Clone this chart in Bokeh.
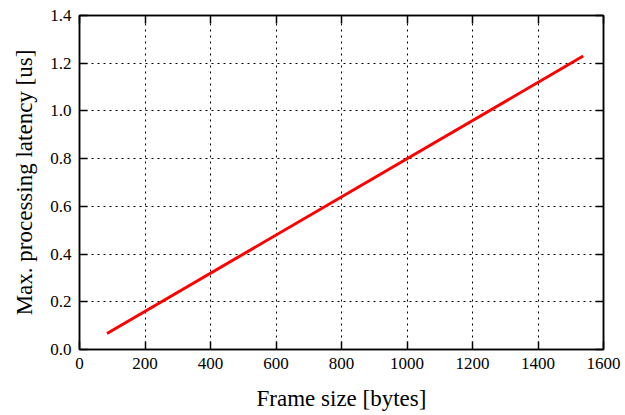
from bokeh.plotting import figure
from bokeh.models import (LinearAxis, Range1d, FixedTicker,
                          NumeralTickFormatter, CustomJSTickFormatter)
from bokeh.embed import file_html
from bokeh.resources import INLINE

frame_size = [84, 1538]
latency = [0.067, 1.230]
x_ticks = [0, 200, 400, 600, 800, 1000, 1200, 1400, 1600]
y_ticks = [0.0, 0.2, 0.4, 0.6, 0.8, 1.0, 1.2, 1.4]

FONT = "Liberation Serif"

p = figure(width=625, height=415, output_backend="svg", toolbar_location=None,
           x_range=Range1d(0, 1600), y_range=Range1d(0, 1.4),
           min_border_left=79, min_border_right=22, min_border_top=15, min_border_bottom=66)

p.line(frame_size, latency, line_color="red", line_width=3)

bottom = p.below[0]
left = p.left[0]
bottom.ticker = FixedTicker(ticks=x_ticks)
left.ticker = FixedTicker(ticks=y_ticks)
left.formatter = NumeralTickFormatter(format="0.0")

blank = CustomJSTickFormatter(code="return ''")
top = LinearAxis(ticker=FixedTicker(ticks=x_ticks), formatter=blank)
right = LinearAxis(ticker=FixedTicker(ticks=y_ticks), formatter=blank)
p.add_layout(top, "above")
p.add_layout(right, "right")

for ax in [bottom, left]:
    ax.major_label_text_font = "Times New Roman"
    ax.major_label_text_font_size = "17px"
    ax.major_label_text_color = "black"
    ax.axis_label_text_font = FONT
    ax.axis_label_text_font_size = "23px"
    ax.axis_label_text_font_style = "normal"
    ax.axis_label_text_color = "black"

for ax in [bottom, left, top, right]:
    ax.major_tick_in = 8
    ax.major_tick_out = 0
    ax.minor_tick_in = 0
    ax.minor_tick_out = 0
    ax.major_tick_line_color = "black"
    ax.major_tick_line_width = 1.5
    ax.axis_line_color = "black"
    ax.axis_line_width = 1.5

for ax in [top, right]:
    ax.major_label_standoff = 0

left.major_label_standoff = 8
bottom.major_label_standoff = 8
bottom.axis_label = "Frame size [bytes]"
left.axis_label = "Max. processing latency [us]"
bottom.axis_label_standoff = 14
left.axis_label_standoff = 10

p.xgrid.grid_line_color = "black"
p.ygrid.grid_line_color = "black"
p.xgrid.grid_line_dash = "2 4"
p.ygrid.grid_line_dash = "2 4"
p.xgrid.ticker = FixedTicker(ticks=x_ticks)
p.ygrid.ticker = FixedTicker(ticks=y_ticks)

p.outline_line_color = "black"
p.outline_line_width = 1.5
p.background_fill_color = "white"
p.border_fill_color = "white"

open("out.html", "w").write(file_html(p, INLINE))
